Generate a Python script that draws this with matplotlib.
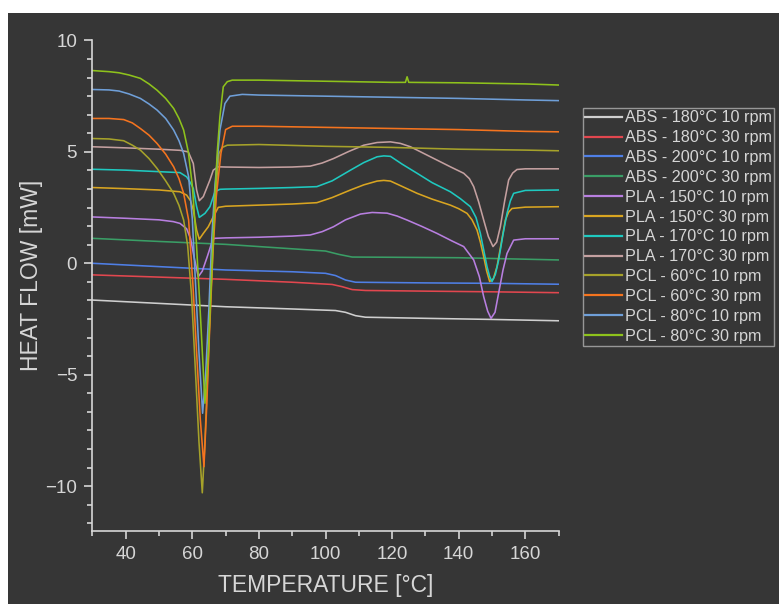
import matplotlib.pyplot as plt
from matplotlib.patches import Rectangle
from matplotlib.ticker import MultipleLocator, AutoMinorLocator

plt.rcParams['font.family'] = ['Liberation Sans', 'DejaVu Sans']

BG = '#363636'
FG = '#d6d6d6'

labels = ['ABS - 180°C 10 rpm', 'ABS - 180°C 30 rpm', 'ABS - 200°C 10 rpm', 'ABS - 200°C 30 rpm',
          'PLA - 150°C 10 rpm', 'PLA - 150°C 30 rpm', 'PLA - 170°C 10 rpm', 'PLA - 170°C 30 rpm',
          'PCL - 60°C 10 rpm', 'PCL - 60°C 30 rpm', 'PCL - 80°C 10 rpm', 'PCL - 80°C 30 rpm']
colors = ['#cfcfcf', '#e2474f', '#4f7fe6', '#3a9e66',
          '#b87fe0', '#d9a521', '#1fc9c0', '#c4a0a0',
          '#a6a22a', '#f5741f', '#6f9fd8', '#8ec21c']

# ABS
abs180_10_x = [30, 50, 70, 90, 103, 106, 109, 112, 130, 150, 170]
abs180_10_y = [-1.65, -1.8, -1.95, -2.05, -2.12, -2.2, -2.35, -2.42, -2.47, -2.52, -2.58]
abs180_30_x = [30, 50, 70, 90, 102, 105, 108, 112, 130, 150, 170]
abs180_30_y = [-0.52, -0.62, -0.72, -0.85, -0.95, -1.05, -1.18, -1.22, -1.25, -1.28, -1.32]
abs200_10_x = [30, 50, 70, 90, 100, 103, 106, 109, 130, 150, 170]
abs200_10_y = [0.0, -0.15, -0.3, -0.38, -0.45, -0.55, -0.75, -0.85, -0.88, -0.9, -0.94]
abs200_30_x = [30, 50, 70, 90, 100, 104, 108, 120, 140, 170]
abs200_30_y = [1.12, 0.98, 0.85, 0.65, 0.55, 0.4, 0.28, 0.27, 0.25, 0.15]

# PLA
pla150_10_x = [30, 40, 50, 54.3, 56.3, 58.3, 59.5, 60.5, 61.8, 63, 64.5, 65.8, 66.5, 70, 80, 90,
               95.4, 99, 102.4, 106, 110.5, 114, 118.5, 121.5, 124.5, 129, 133.5, 138, 141.5,
               144.5, 146.2, 147.5, 148.7, 149.7, 150.9, 152, 153.3, 154.5, 156.5, 160, 170]
pla150_10_y = [2.08, 2.02, 1.95, 1.87, 1.79, 1.55, 1.1, 0.3, -0.6, -0.35, 0.3, 0.9, 1.12, 1.14, 1.17, 1.22,
               1.27, 1.42, 1.64, 1.95, 2.21, 2.28, 2.25, 2.12, 1.94, 1.65, 1.34, 1.0, 0.75,
               0.15, -0.6, -1.5, -2.15, -2.47, -2.2, -1.33, -0.3, 0.44, 1.04, 1.1, 1.1]
pla150_30_x = [30, 40, 50, 56.3, 58.3, 59.5, 60.3, 61.3, 62.1, 63.3, 64.8, 66.3, 67.8, 70, 80, 90,
               97.4, 102, 107.5, 111.5, 115.5, 117.5, 119.5, 123, 127.5, 132, 137.5, 140, 142.5,
               144, 145.5, 146.5, 147.5, 148.4, 149.3, 150.4, 151.5, 152.7, 154, 155, 156, 160, 170]
pla150_30_y = [3.4, 3.35, 3.29, 3.21, 3.06, 2.8, 2.39, 1.49, 1.08, 1.34, 1.64, 2.09, 2.51, 2.56, 2.61, 2.66,
               2.72, 2.95, 3.29, 3.52, 3.69, 3.72, 3.69, 3.45, 3.14, 2.88, 2.61, 2.45, 2.24,
               1.95, 1.49, 0.95, 0.3, -0.35, -0.82, -0.7, -0.15, 0.85, 1.94, 2.3, 2.46, 2.52, 2.54]
pla170_10_x = [30, 40, 50.3, 56.3, 58.3, 59.3, 60.3, 61.3, 62.1, 63.8, 65.3, 66.8, 68.3, 70, 80, 90,
               97.4, 102, 107.5, 111.5, 115.5, 117.5, 119.5, 123, 127.5, 132, 137.5, 140.5, 143.5,
               145.2, 146.5, 147.5, 148.5, 149.3, 150, 151, 152, 153.3, 154.5, 155.5, 156.5, 160, 170]
pla170_10_y = [4.22, 4.18, 4.11, 4.07, 3.88, 3.65, 3.36, 2.54, 2.06, 2.24, 2.54, 3.21, 3.32, 3.33, 3.36, 3.4,
               3.44, 3.7, 4.18, 4.52, 4.78, 4.82, 4.8, 4.45, 4.04, 3.62, 3.21, 2.9, 2.54,
               2.05, 1.34, 0.6, -0.15, -0.6, -0.82, -0.5, 0.15, 1.3, 2.24, 2.8, 3.14, 3.27, 3.29]
pla170_30_x = [30, 40, 50, 56.3, 58.8, 60.3, 61.3, 62.1, 63.3, 65.3, 66.3, 67.8, 70, 80, 90,
               95.4, 99, 102.4, 107, 111.5, 115.5, 119.5, 122.5, 125.5, 129.5, 133.5, 137.5, 141.5,
               143.2, 144.5, 146, 147.5, 148.9, 150.3, 151.4, 152.5, 153.8, 155, 156.2, 157.5, 160, 170]
pla170_30_y = [5.23, 5.18, 5.12, 5.07, 5.0, 4.48, 3.29, 2.81, 2.99, 3.74, 4.18, 4.33, 4.32, 4.3, 4.32,
               4.36, 4.5, 4.7, 5.02, 5.3, 5.42, 5.45, 5.38, 5.23, 4.93, 4.63, 4.33, 4.04,
               3.8, 3.44, 2.75, 1.94, 1.2, 0.75, 0.95, 1.64, 2.8, 3.74, 4.05, 4.21, 4.24, 4.24]

# PCL
pcl60_10_x = [30, 35, 39.4, 42, 44.4, 47, 49.4, 52, 54.4, 56, 57.4, 58.6, 59.8, 61.0, 62.0, 63.0,
              63.8, 64.6, 65.4, 66.3, 67.2, 68.0, 69.0, 70.5, 80, 100, 120, 140, 160, 170]
pcl60_10_y = [5.6, 5.58, 5.5, 5.3, 5.08, 4.7, 4.26, 3.7, 3.14, 2.6, 1.94, 0.8, -1.5, -5.0, -8.0, -10.3,
              -8.0, -5.0, -2.0, 1.0, 3.5, 4.93, 5.2, 5.3, 5.33, 5.25, 5.2, 5.12, 5.08, 5.05]
pcl60_30_x = [30, 35, 39.4, 42, 44.4, 47, 49.4, 52, 54.4, 56, 57.4, 58.9, 60.2, 61.3, 62.4, 63.5,
              64.3, 65.2, 66.2, 67.2, 68.6, 70.0, 72, 80, 100, 120, 140, 160, 170]
pcl60_30_y = [6.5, 6.5, 6.45, 6.3, 6.05, 5.75, 5.38, 4.9, 4.33, 3.8, 3.14, 1.94, -1.0, -4.0, -7.0, -9.13,
              -6.5, -3.0, 0.5, 3.0, 4.93, 6.0, 6.15, 6.15, 6.1, 6.05, 6.0, 5.92, 5.9]
pcl80_10_x = [30, 35, 38, 41, 44.4, 47, 49.4, 52, 54.4, 56, 57.4, 58.9, 60, 61, 62, 63.1,
              64, 65, 65.8, 66.8, 68.3, 69.8, 71.3, 75, 80, 100, 120, 140, 160, 170]
pcl80_10_y = [7.8, 7.78, 7.73, 7.6, 7.4, 7.15, 6.88, 6.5, 5.98, 5.5, 4.93, 3.88, 2.0, -1.0, -4.0, -6.73,
              -5.0, -2.0, 1.0, 3.5, 5.98, 7.17, 7.5, 7.58, 7.55, 7.5, 7.45, 7.4, 7.33, 7.3]
pcl80_30_x = [30, 35, 38, 41, 44.4, 47, 49.4, 52, 54.4, 56, 57.4, 58.8, 60, 61.2, 62.5, 63.8,
              64.8, 65.8, 66.8, 67.5, 68.3, 69.3, 70.5, 72, 80, 100, 120, 124, 124.5, 125, 140, 160, 170]
pcl80_30_y = [8.65, 8.6, 8.55, 8.45, 8.3, 8.05, 7.77, 7.4, 6.95, 6.5, 5.98, 5.0, 3.5, 1.0, -2.5, -6.28,
              -4.0, -0.5, 3.0, 5.0, 6.6, 7.92, 8.15, 8.22, 8.22, 8.17, 8.12, 8.12, 8.37, 8.12, 8.1, 8.05, 8.0]

series = [(abs180_10_x, abs180_10_y), (abs180_30_x, abs180_30_y),
          (abs200_10_x, abs200_10_y), (abs200_30_x, abs200_30_y),
          (pla150_10_x, pla150_10_y), (pla150_30_x, pla150_30_y),
          (pla170_10_x, pla170_10_y), (pla170_30_x, pla170_30_y),
          (pcl60_10_x, pcl60_10_y), (pcl60_30_x, pcl60_30_y),
          (pcl80_10_x, pcl80_10_y), (pcl80_30_x, pcl80_30_y)]

fig = plt.figure(figsize=(7.79, 6.04), dpi=100, facecolor='white')
# dark panel, leaving a thin white margin at the top and left like the source image
fig.patches.append(Rectangle((8 / 779, 0), 1, 1 - 13 / 604, transform=fig.transFigure,
                             facecolor=BG, edgecolor='none', zorder=-10))
ax = fig.add_axes([0.1186, 0.1214, 0.5985, 0.8116])
ax.set_facecolor(BG)

for (x, y), lab, col in zip(series, labels, colors):
    ax.plot(x, y, color=col, lw=1.15, label=lab)

ax.set_xlim(30, 170)
ax.set_ylim(-12, 10)
ax.xaxis.set_major_locator(MultipleLocator(20))
ax.xaxis.set_minor_locator(AutoMinorLocator(2))
ax.yaxis.set_major_locator(MultipleLocator(5))
ax.yaxis.set_minor_locator(AutoMinorLocator(6))

for s in ['top', 'right']:
    ax.spines[s].set_visible(False)
for s in ['left', 'bottom']:
    ax.spines[s].set_color(FG)
    ax.spines[s].set_linewidth(1.2)

ax.tick_params(which='both', direction='out', colors=FG, labelsize=13.5, width=1.2)
ax.tick_params(which='major', length=6, pad=5)
ax.tick_params(which='minor', length=3.5)

ax.set_xlabel('TEMPERATURE [°C]', fontsize=16.5, color=FG)
ax.set_ylabel('HEAT FLOW [mW]', fontsize=16.5, color=FG)
ax.xaxis.label.set_va('center')
ax.yaxis.label.set_va('center')
ax.xaxis.set_label_coords(0.5, -0.112)
ax.yaxis.set_label_coords(-0.131, 0.52)

leg = fig.legend(loc='upper left', bbox_to_anchor=(583 / 779, 1 - 108 / 604), fontsize=11.6,
                 frameon=True, fancybox=False, borderaxespad=0, borderpad=0.15,
                 handlelength=2.3, handletextpad=0.15, labelspacing=0.3)
leg.get_frame().set_facecolor(BG)
leg.get_frame().set_edgecolor('#b0b0b0')
leg.get_frame().set_linewidth(1.0)
for t in leg.get_texts():
    t.set_color(FG)
for h in leg.get_lines():
    h.set_linewidth(1.6)

fig.savefig('out.png', dpi=100, facecolor='white')
